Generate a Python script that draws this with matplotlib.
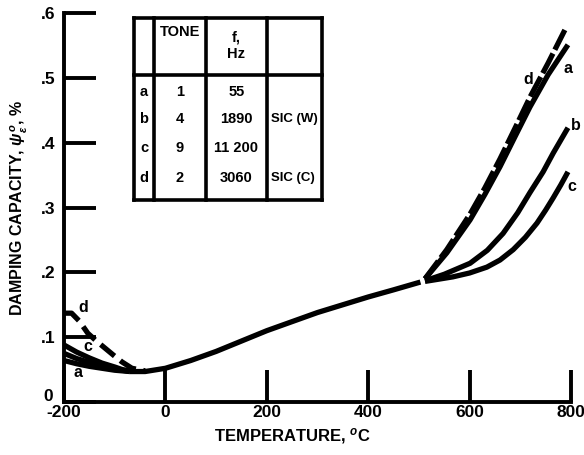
import matplotlib
matplotlib.use("Agg")
import matplotlib.pyplot as plt
from matplotlib.lines import Line2D
from matplotlib.transforms import ScaledTranslation

plt.rcParams['font.family'] = ['Liberation Sans', 'DejaVu Sans']
plt.rcParams['font.weight'] = 'bold'
plt.rcParams['mathtext.fontset'] = 'custom'
plt.rcParams['mathtext.rm'] = 'Liberation Sans:bold'
plt.rcParams['mathtext.it'] = 'Liberation Sans:bold:italic'

# Shared low-temperature / mid-range curve (all tones coincide)
common_T = [-70, -40, 0, 50, 100, 150, 200, 250, 300, 350, 400, 450, 503]
common_v = [0.047, 0.047, 0.052, 0.064, 0.078, 0.094, 0.110, 0.124, 0.138, 0.150, 0.162, 0.173, 0.185]

# Low-temperature branches
low_T = [-200, -175, -150, -125, -100, -85, -70]
low_a = [0.064, 0.059, 0.055, 0.052, 0.049, 0.048, 0.047]
low_b = [0.075, 0.067, 0.061, 0.055, 0.051, 0.049, 0.047]
low_c = [0.088, 0.077, 0.068, 0.060, 0.054, 0.050, 0.048]
low_d_T = [-200, -185, -170, -153, -136, -119, -102, -86, -66, -40]
low_d = [0.137, 0.137, 0.125, 0.106, 0.094, 0.083, 0.072, 0.062, 0.052, 0.048]

# High-temperature branches
hi_a_T = [512, 555, 601, 630, 660, 690, 719, 755, 794]
hi_a = [0.190, 0.230, 0.281, 0.320, 0.363, 0.410, 0.455, 0.505, 0.551]
hi_d_T = [512, 555, 601, 630, 660, 690, 719, 755, 788]
hi_d = [0.190, 0.235, 0.290, 0.330, 0.375, 0.423, 0.470, 0.523, 0.574]
hi_b_T = [512, 550, 601, 635, 666, 695, 719, 745, 765, 794]
hi_b = [0.187, 0.197, 0.214, 0.234, 0.260, 0.292, 0.323, 0.355, 0.384, 0.423]
hi_c_T = [512, 567, 600, 634, 660, 686, 710, 733, 750, 765, 780, 794]
hi_c = [0.186, 0.193, 0.199, 0.208, 0.219, 0.235, 0.254, 0.276, 0.296, 0.315, 0.335, 0.355]

x_ticks = [-200, 0, 200, 400, 600, 800]
y_ticks = [0, 0.1, 0.2, 0.3, 0.4, 0.5, 0.6]
y_ticklabels = ["0", ".1", ".2", ".3", ".4", ".5", ".6"]

# Legend table contents
tbl_header = ["", "TONE", "f,\nHz", ""]
tbl_rows = [
    ["a", "1", "55", ""],
    ["b", "4", "1890", "SIC (W)"],
    ["c", "9", "11 200", ""],
    ["d", "2", "3060", "SIC (C)"],
]

W, H = 584, 455
fig = plt.figure(figsize=(W / 100, H / 100), dpi=100)
ax = fig.add_axes([64 / W, 1 - 402 / H, (571 - 64) / W, (402 - 13) / H])
ax.set_xlim(-200, 800)
ax.set_ylim(0, 0.6)

lw = 3.8
col = 'black'
for v in (low_a, low_b, low_c):
    ax.plot(low_T, v, color=col, lw=lw, solid_capstyle='butt')
ax.plot(common_T, common_v, color=col, lw=lw, solid_capstyle='butt')
for T, v in ((hi_a_T, hi_a), (hi_b_T, hi_b), (hi_c_T, hi_c)):
    ax.plot(T, v, color=col, lw=lw, solid_capstyle='butt')
ax.plot(low_d_T, low_d, color=col, lw=lw, dashes=(3.4, 1.4), dash_capstyle='butt')
ax.plot(hi_d_T, hi_d, color=col, lw=lw, dashes=(4.2, 0.8), dash_capstyle='butt')

# Curve labels
lab_kw = dict(fontsize=11.5, fontweight='bold', ha='center', va='center')
ax.text(-163, 0.145, "d", **lab_kw)
ax.text(-153, 0.086, "c", **lab_kw)
ax.text(-172, 0.046, "a", **lab_kw)
ax.text(715, 0.497, "d", **lab_kw)
ax.text(794, 0.515, "a", **lab_kw)
ax.text(810, 0.426, "b", **lab_kw)
ax.text(802, 0.332, "c", **lab_kw)

# Axes frame: left and bottom only, ticks pointing inward
for s in ('top', 'right'):
    ax.spines[s].set_visible(False)
for s in ('left', 'bottom'):
    ax.spines[s].set_linewidth(2.8)
ax.set_xticks(x_ticks)
ax.set_xticklabels([str(t) for t in x_ticks])
ax.set_yticks(y_ticks)
ax.set_yticklabels(y_ticklabels)
ax.tick_params(axis='both', direction='in', length=23, width=2.8,
               labelsize=12.5, pad=6)
ax.tick_params(axis='x', pad=2)
for lbl in ax.get_xticklabels() + ax.get_yticklabels():
    lbl.set_fontweight('bold')
# lift the zero label on the value axis clear of the -200 label
zero_lbl = ax.get_yticklabels()[0]
zero_lbl.set_transform(zero_lbl.get_transform()
                       + ScaledTranslation(-3 / 100, 7 / 100, fig.dpi_scale_trans))

ax.set_xlabel("TEMPERATURE, $^{o}$C", fontsize=12, fontweight='bold', labelpad=3)
ax.xaxis.set_label_coords(0.45, -0.062)
ax.set_ylabel(r"DAMPING CAPACITY, $\psi_{\epsilon}^{o}$, %", fontsize=11.5,
              fontweight='bold', labelpad=8)

# Legend table drawn in figure pixel coordinates
def fx(px):
    return px / W

def fy(py):
    return 1 - py / H

col_x = [134, 154, 206, 267, 322]
row_y = [18, 75, 200]
row_centers = [92, 119, 148, 178]
tw = 2.6
for x in col_x:
    fig.add_artist(Line2D([fx(x), fx(x)], [fy(row_y[0]), fy(row_y[-1])],
                          color='black', lw=tw))
for y in row_y:
    fig.add_artist(Line2D([fx(col_x[0]), fx(col_x[-1])], [fy(y), fy(y)],
                          color='black', lw=tw))

centers = [(col_x[i] + col_x[i + 1]) / 2 for i in range(4)]
tkw = dict(fontsize=10.5, fontweight='bold', ha='center', va='center')
fig.text(fx(centers[1]), fy(32), tbl_header[1], **tkw)
fig.text(fx(centers[2]), fy(46), tbl_header[2], linespacing=1.25, **tkw)
for row, yc in zip(tbl_rows, row_centers):
    for j, txt in enumerate(row):
        if txt:
            if j == 3:
                fig.text(fx(col_x[3] + 4), fy(yc), txt,
                         fontsize=9.5, fontweight='bold', ha='left', va='center')
            else:
                fig.text(fx(centers[j]), fy(yc), txt, **tkw)

fig.savefig("out.png", dpi=100)
